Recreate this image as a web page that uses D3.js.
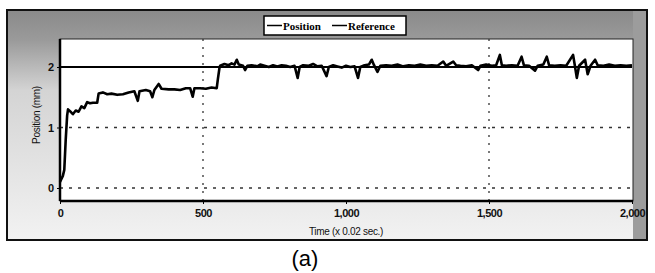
<!DOCTYPE html>
<html>
<head>
<meta charset="utf-8">
<script src="https://cdn.jsdelivr.net/npm/d3@7"></script>
<style>
  body { margin: 0; background: #fff; }
  svg { display: block; }
</style>
</head>
<body>
<svg id="chart" width="655" height="273"></svg>
<script>
// Position trace (time in x0.02 s, position in mm)
const posTime = [0, 5, 10, 15, 20, 25, 28, 35, 45, 55, 65, 75, 85, 95, 105, 115, 130, 135, 150, 165, 180, 200, 220, 240, 260, 272, 278, 300, 315, 323, 330, 345, 355, 380, 400, 420, 440, 455, 464, 470, 490, 510, 530, 548, 552, 558,
  560, 575, 590, 600, 610, 618, 625, 640, 647, 655, 670, 690, 700, 715, 730, 745, 760, 775, 790, 805, 820, 831, 838, 850, 870, 885, 900, 915, 932, 940, 955, 970, 985, 1000,
  1015, 1030, 1042, 1050, 1065, 1080, 1090, 1098, 1110, 1120, 1140, 1160, 1180, 1200, 1220, 1240, 1260, 1280, 1300, 1320, 1340, 1350, 1375, 1385, 1400, 1420, 1440, 1462, 1470, 1490,
  1510, 1525, 1538, 1545, 1560, 1580, 1600, 1614, 1622, 1640, 1661, 1670, 1690, 1702, 1710, 1730, 1750, 1770, 1794, 1800, 1807, 1815, 1836, 1845, 1855, 1871, 1880, 1900, 1920, 1940, 1960, 1980, 2000];
const posValue = [0.1, 0.15, 0.2, 0.3, 0.8, 1.2, 1.3, 1.27, 1.22, 1.28, 1.26, 1.35, 1.32, 1.42, 1.4, 1.41, 1.41, 1.56, 1.58, 1.55, 1.56, 1.54, 1.55, 1.58, 1.6, 1.44, 1.6, 1.62, 1.6, 1.5, 1.62, 1.72, 1.64, 1.63, 1.63, 1.62, 1.65, 1.65, 1.51, 1.65, 1.65, 1.64, 1.66, 1.65, 1.8, 2.0,
  2.02, 2.05, 2.03, 2.06, 2.04, 2.12, 2.04, 2.02, 1.95, 2.02, 2.03, 2.01, 2.04, 2.02, 2.0, 2.03, 2.01, 2.03, 2.02, 2.0, 2.02, 1.82, 2.0, 2.03, 2.02, 2.05, 2.01, 2.02, 1.85, 2.0, 2.03, 2.01, 1.99, 2.02,
  2.0, 2.01, 1.82, 2.0, 2.03, 2.04, 2.12, 2.03, 1.92, 2.02, 2.03, 2.02, 2.04, 2.01, 2.03, 2.02, 2.04, 2.02, 2.03, 2.02, 2.09, 2.02, 2.09, 2.03, 2.02, 2.01, 2.03, 1.95, 2.02, 2.04,
  2.02, 2.03, 2.2, 2.03, 2.02, 2.03, 2.02, 2.17, 2.03, 2.02, 1.94, 2.02, 2.04, 2.17, 2.03, 2.02, 2.03, 2.02, 2.2, 2.03, 1.82, 2.02, 2.12, 1.88, 2.02, 2.12, 2.03, 2.02, 2.04, 2.02, 2.03, 2.02, 2.03];

// Reference setpoint
const refTime = [0, 2000];
const refValue = [2, 2];

const xTicks = [0, 500, 1000, 1500, 2000];
const yTicks = [0, 1, 2];
const xGrid = [500, 1500];
const yGrid = [0, 1];
const legendNames = ["Position", "Reference"];

const svg = d3.select("#chart");

const frame = { left: 7, top: 10, right: 647, bottom: 240 };
const plot = { left: 60, top: 39, right: 633, bottom: 201 };

// frame background, a gray that fades downward
const defs = svg.append("defs");
const grad = defs.append("linearGradient")
  .attr("id", "bg").attr("x1", 0).attr("y1", 0).attr("x2", 0).attr("y2", 1);
grad.append("stop").attr("offset", "0%").attr("stop-color", "#8a8a8a");
grad.append("stop").attr("offset", "13%").attr("stop-color", "#9a9a9a");
grad.append("stop").attr("offset", "35%").attr("stop-color", "#d4d4d4");
grad.append("stop").attr("offset", "100%").attr("stop-color", "#f2f2f2");

svg.append("rect")
  .attr("x", frame.left).attr("y", frame.top)
  .attr("width", frame.right - frame.left).attr("height", frame.bottom - frame.top)
  .attr("fill", "url(#bg)");

// darker right strip
svg.append("rect")
  .attr("x", plot.right).attr("y", frame.top)
  .attr("width", frame.right - plot.right).attr("height", frame.bottom - frame.top)
  .attr("fill", "#9c9c9c");

svg.append("rect")
  .attr("x", frame.left).attr("y", frame.top)
  .attr("width", frame.right - frame.left).attr("height", frame.bottom - frame.top)
  .attr("fill", "none").attr("stroke", "#111").attr("stroke-width", 2);

// plot area
svg.append("rect")
  .attr("x", plot.left).attr("y", plot.top)
  .attr("width", plot.right - plot.left).attr("height", plot.bottom - plot.top)
  .attr("fill", "#fff").attr("stroke", "#222").attr("stroke-width", 1);

const x = d3.scaleLinear().domain([0, 2000]).range([plot.left, 632]);
const y = d3.scaleLinear().domain([0, 2]).range([188, 67]);

// dotted grid
svg.append("g").selectAll("line").data(yGrid).join("line")
  .attr("x1", plot.left).attr("x2", plot.right)
  .attr("y1", d => y(d)).attr("y2", d => y(d))
  .attr("stroke", "#333").attr("stroke-width", 1.3).attr("stroke-dasharray", "3,6");
svg.append("g").selectAll("line").data(xGrid).join("line")
  .attr("x1", d => x(d)).attr("x2", d => x(d))
  .attr("y1", plot.top).attr("y2", plot.bottom)
  .attr("stroke", "#333").attr("stroke-width", 1.3).attr("stroke-dasharray", "2,6");

// axes
const font = "'Liberation Sans Narrow', 'Liberation Sans', Arial, sans-serif";
const xAxis = svg.append("g")
  .attr("transform", `translate(0,${plot.bottom})`)
  .call(d3.axisBottom(x).tickValues(xTicks).tickSize(3).tickFormat(d3.format(",")));
xAxis.select(".domain").attr("stroke", "#000").attr("stroke-width", 2.5)
  .attr("d", `M${plot.left},0H${plot.right}`);
xAxis.selectAll("text").attr("font-family", font).attr("font-size", 11)
  .attr("font-weight", "bold").attr("fill", "#111").attr("dy", "0.9em")
  .attr("letter-spacing", -0.5);
xAxis.selectAll(".tick line").attr("stroke", "#000");

const yAxis = svg.append("g")
  .attr("transform", `translate(${plot.left},0)`)
  .call(d3.axisLeft(y).tickValues(yTicks).tickSize(3).tickFormat(d3.format("d")));
yAxis.select(".domain").attr("stroke", "#000").attr("stroke-width", 2.5)
  .attr("d", `M0,${plot.top}V${plot.bottom}`);
yAxis.selectAll("text").attr("font-family", font).attr("font-size", 11)
  .attr("font-weight", "bold").attr("fill", "#111");
yAxis.selectAll(".tick line").attr("stroke", "#000");

// axis titles
svg.append("text")
  .attr("x", 346).attr("y", 235)
  .attr("text-anchor", "middle")
  .attr("font-family", font).attr("font-size", 10).attr("fill", "#111")
  .attr("letter-spacing", -0.3)
  .text("Time (x 0.02 sec.)");
svg.append("text")
  .attr("transform", "translate(40,115) rotate(-90)")
  .attr("text-anchor", "middle")
  .attr("font-family", font).attr("font-size", 10).attr("fill", "#111")
  .attr("letter-spacing", -0.3)
  .text("Position (mm)");

// lines
const line = d3.line().x(d => x(d[0])).y(d => y(d[1]));
svg.append("path")
  .datum(d3.zip(refTime, refValue))
  .attr("d", line).attr("fill", "none")
  .attr("stroke", "#000").attr("stroke-width", 1.8);
svg.append("path")
  .datum(d3.zip(posTime, posValue))
  .attr("d", line).attr("fill", "none")
  .attr("stroke", "#000").attr("stroke-width", 2.6).attr("stroke-linejoin", "round");

// legend
const lg = svg.append("g").attr("transform", "translate(264,16)");
lg.append("rect").attr("width", 142).attr("height", 19)
  .attr("fill", "#fff").attr("stroke", "#000").attr("stroke-width", 1.5);
const legendX = [3, 68];
legendNames.forEach((name, i) => {
  lg.append("line")
    .attr("x1", legendX[i]).attr("x2", legendX[i] + 15)
    .attr("y1", 9.5).attr("y2", 9.5)
    .attr("stroke", "#000").attr("stroke-width", 1.5);
  lg.append("text")
    .attr("x", legendX[i] + 16).attr("y", 13.5)
    .attr("font-family", "'Liberation Serif', serif")
    .attr("font-size", 11).attr("font-weight", "bold")
    .text(name);
});

// panel label
svg.append("text")
  .attr("x", 305).attr("y", 266)
  .attr("text-anchor", "middle")
  .attr("font-family", "'Liberation Sans', Arial, sans-serif").attr("font-size", 22)
  .text("(a)");
</script>
</body>
</html>
